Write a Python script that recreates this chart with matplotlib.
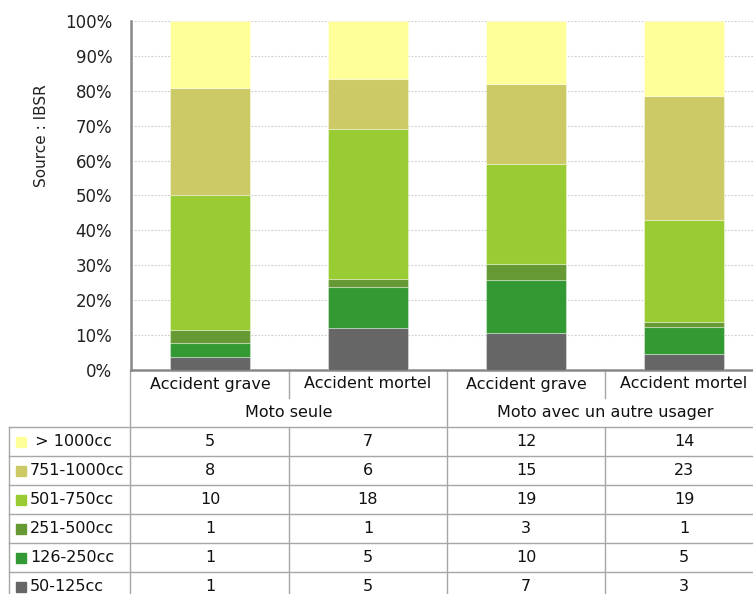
import matplotlib
matplotlib.use("Agg")
import matplotlib.pyplot as plt
import numpy as np

# Categories and groups
categories = ["Accident grave", "Accident mortel", "Accident grave", "Accident mortel"]
groups = ["Moto seule", "Moto avec un autre usager"]

# Engine size classes (bottom to top of each stack)
classes = ["50-125cc", "126-250cc", "251-500cc", "501-750cc", "751-1000cc", " > 1000cc"]
colors = ["#666666", "#339933", "#669933", "#99CC33", "#CCCA66", "#FFFF99"]

# Counts per class for each category
v_50_125 = [1, 5, 7, 3]
v_126_250 = [1, 5, 10, 5]
v_251_500 = [1, 1, 3, 1]
v_501_750 = [10, 18, 19, 19]
v_751_1000 = [8, 6, 15, 23]
v_1000_plus = [5, 7, 12, 14]

series = [v_50_125, v_126_250, v_251_500, v_501_750, v_751_1000, v_1000_plus]
yticks = [f"{p}%" for p in range(0, 101, 10)]

W, H = 753, 594
fig = plt.figure(figsize=(W / 100, H / 100), dpi=100)
plt.rcParams["font.family"] = ["DejaVu Sans"]
FS = 11.5

# geometry in pixels
x0, col_w = 131, 158
y_top, y_bot = 21, 370

ax = fig.add_axes([x0 / W, (H - y_bot) / H, 4 * col_w / W, (y_bot - y_top) / H])
data = np.array(series, dtype=float)
pct = data / data.sum(axis=0) * 100
x = np.arange(len(categories))
bottom = np.zeros(len(categories))
for vals, col in zip(pct, colors):
    ax.bar(x, vals, width=0.51, bottom=bottom, color=col, edgecolor=(1, 1, 1, 0.35),
           linewidth=0.8, zorder=3)
    bottom += vals

ax.set_xlim(-0.5, 3.5)
ax.set_ylim(0, 100)
ax.set_yticks(range(0, 101, 10))
ax.set_yticklabels(yticks, fontsize=12, color="#222222")
ax.set_xticks([])
ax.tick_params(axis="y", length=0, pad=13.5)
ax.yaxis.grid(True, linestyle=(0, (1.5, 1.5)), color="#cccccc", linewidth=0.8, zorder=0)
for s in ["top", "right"]:
    ax.spines[s].set_visible(False)
for s in ["left", "bottom"]:
    ax.spines[s].set_color("#888888")
    ax.spines[s].set_linewidth(1.8)
ax.spines["left"].set_zorder(4)

fig.text(42 / W, 1 - 136 / H, "Source : IBSR", rotation=90, ha="center", va="center",
         fontsize=11, color="#222222")

# Data table below the chart, drawn in pixel coordinates
tax = fig.add_axes([0, 0, 1, 1], zorder=-1)
tax.set_xlim(0, W)
tax.set_ylim(H, 0)
tax.axis("off")
lc = "#a6a6a6"
lw = 1.0
row_y = [427, 456, 485, 514, 543, 572, 601]
cat_row_bottom = 398
x_end = x0 + 4 * col_w

# header block borders
tax.plot([x0 - 0.5, x0 - 0.5], [y_bot, row_y[-1]], color=lc, lw=lw)
for i in range(1, 4):
    xc = x0 + i * col_w
    if i == 2:
        tax.plot([xc, xc], [y_bot, row_y[-1]], color=lc, lw=lw)
    else:
        tax.plot([xc, xc], [y_bot, cat_row_bottom], color=lc, lw=lw)
        tax.plot([xc, xc], [row_y[0], row_y[-1]], color=lc, lw=lw)
# legend column and rows
tax.plot([9, 9], [row_y[0], row_y[-1]], color=lc, lw=lw)
for yy in row_y:
    tax.plot([9, x_end], [yy, yy], color=lc, lw=lw)

# category labels and group labels
for i, c in enumerate(categories):
    tax.text(x0 + (i + 0.5) * col_w, 384, c, ha="center", va="center", fontsize=FS, color="#111111")
for g, name in enumerate(groups):
    tax.text(x0 + (2 * g + 1) * col_w, 412.5, name, ha="center", va="center", fontsize=FS, color="#111111")

# table rows: top row is the largest class
for r, ci in enumerate(range(len(classes) - 1, -1, -1)):
    yc = (row_y[r] + row_y[r + 1]) / 2
    tax.add_patch(plt.Rectangle((16, yc - 5), 10, 10, color=colors[ci]))
    tax.text(30, yc, classes[ci], ha="left", va="center", fontsize=FS, color="#111111")
    for j in range(len(categories)):
        tax.text(x0 + (j + 0.5) * col_w, yc, str(series[ci][j]), ha="center", va="center",
                 fontsize=FS, color="#111111")

fig.savefig("out.png", dpi=100)
